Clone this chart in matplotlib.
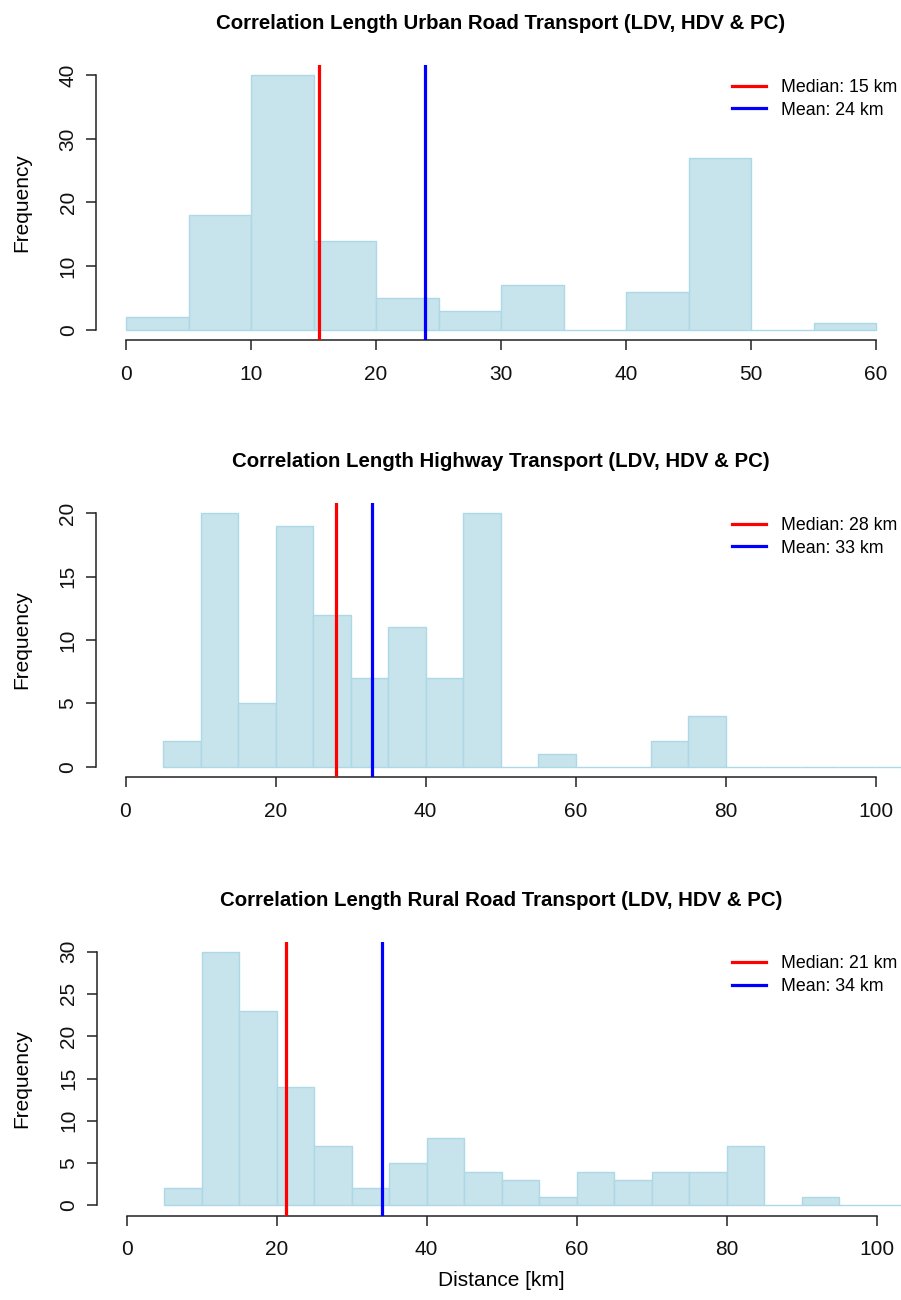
import numpy as np
import matplotlib.pyplot as plt
from matplotlib.lines import Line2D

plt.rcParams["font.family"] = ["Liberation Sans", "DejaVu Sans"]

# histogram counts per 5 km bin, starting at the given bin edge
bin_width = 5

urban_start = 0
urban_counts = [2, 18, 40, 14, 5, 3, 7, 0, 6, 27, 0, 1]
urban_median = 15.4
urban_mean = 23.95

highway_start = 5
highway_counts = [2, 20, 5, 19, 12, 7, 11, 7, 20, 0, 1, 0, 0, 2, 4,
                  0, 0, 0, 0, 0, 0]
highway_median = 28.05
highway_mean = 32.9

rural_start = 5
rural_counts = [2, 30, 23, 14, 7, 2, 5, 8, 4, 3, 1, 4, 3, 4, 4, 7, 0, 1,
                0, 0, 0]
rural_median = 21.2
rural_mean = 34.1

titles = [
    "Correlation Length Urban Road Transport (LDV, HDV & PC)",
    "Correlation Length Highway Transport (LDV, HDV & PC)",
    "Correlation Length Rural Road Transport (LDV, HDV & PC)",
]

# axis ranges and tick steps for each panel
x_max = [60, 100, 100]
x_step = [10, 20, 20]
y_max = [40, 20, 30]
y_step = [10, 5, 5]

W, H = 901, 1300
FILL = "#C7E3EC"
EDGE = "#ADD8E6"
AXIS = "#222222"

# plot regions in pixels: left, top, width, height
regions = [
    (96, 65, 810, 275),
    (95.5, 503, 810, 274),
    (96.5, 941.5, 810, 274),
]


def px_axes(fig, left, top, width, height):
    return fig.add_axes([left / W, 1 - (top + height) / H, width / W, height / H])


def draw_hist(ax, start, counts, median, mean, title, xmax, xstep, ymax, ystep, region):
    edges = start + bin_width * np.arange(len(counts))
    ax.bar(edges, counts, width=bin_width, align="edge", color=FILL,
           edgecolor=EDGE, linewidth=1.0, zorder=1)

    ax.axvline(median, color="#FF0000", linewidth=2.3, zorder=3)
    ax.axvline(mean, color="#0000FF", linewidth=2.3, zorder=3)

    # R style: 4% padding around the data range, axes only over the ticks
    ax.set_xlim(-0.04 * xmax, 1.04 * xmax)
    ax.set_ylim(-0.04 * ymax, 1.04 * ymax)
    ax.set_xticks(np.arange(0, xmax + 1, xstep))
    ax.set_yticks(np.arange(0, ymax + 1, ystep))
    for side in ["top", "right"]:
        ax.spines[side].set_visible(False)
    ax.spines["bottom"].set_bounds(0, xmax)
    ax.spines["left"].set_bounds(0, ymax)
    for side in ["bottom", "left"]:
        ax.spines[side].set_color(AXIS)
        ax.spines[side].set_linewidth(1.1)
    ax.tick_params(direction="out", length=7.2, width=1.1, color=AXIS,
                   labelsize=15, labelcolor="#111111")
    ax.tick_params(axis="x", pad=10.5)
    ax.tick_params(axis="y", pad=6)
    for lab in ax.get_yticklabels():
        lab.set_rotation(90)
        lab.set_va("center")

    left, top, width, height = region
    fig = ax.figure
    fig.text((left + width / 2) / W, 1 - (top - 41.5) / H, title,
             ha="center", va="center", fontsize=14.7, fontweight="bold")
    fig.text(22 / W, 1 - (top + height / 2) / H, "Frequency",
             ha="center", va="center", rotation=90, fontsize=15)

    handles = [Line2D([], [], color="#FF0000", linewidth=2.3),
               Line2D([], [], color="#0000FF", linewidth=2.3)]
    labels = [f"Median: {median:.0f} km", f"Mean: {mean:.0f} km"]
    ax.legend(handles, labels, loc="upper left",
              bbox_to_anchor=(732 / W, 1 - (top + 14) / H),
              bbox_transform=fig.transFigure, frameon=False, fontsize=12.8,
              borderpad=0, borderaxespad=0, handlelength=1.9,
              handletextpad=0.84, labelspacing=0.31)


fig = plt.figure(figsize=(W / 100, H / 100), dpi=100)

panels = [
    (urban_start, urban_counts, urban_median, urban_mean),
    (highway_start, highway_counts, highway_median, highway_mean),
    (rural_start, rural_counts, rural_median, rural_mean),
]

for i, (start, counts, median, mean) in enumerate(panels):
    ax = px_axes(fig, *regions[i])
    draw_hist(ax, start, counts, median, mean, titles[i],
              x_max[i], x_step[i], y_max[i], y_step[i], regions[i])

# x label only under the last panel
fig.text(501 / W, 1 - 1281 / H, "Distance [km]", ha="center", va="center",
         fontsize=15)

fig.savefig("out.png", dpi=100)
